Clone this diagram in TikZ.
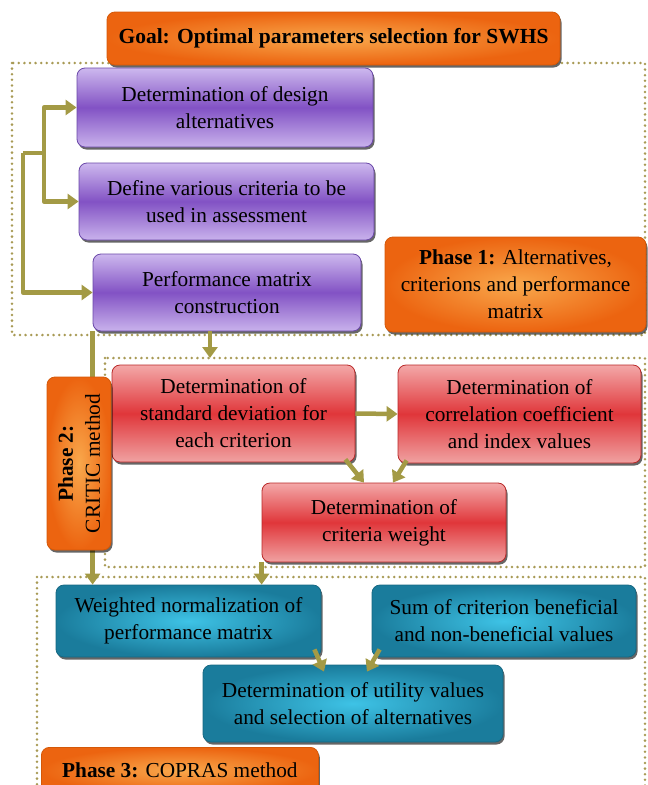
\documentclass[tikz,border=0pt]{standalone}
\usepackage{fontspec}
\setmainfont{Liberation Serif}
\usetikzlibrary{arrows.meta,shadows}

% Colours of the boxes
\definecolor{orangeout}{HTML}{EC6410}
\definecolor{orangein}{HTML}{F9A84C}
\definecolor{orangeedge}{HTML}{D45808}
\definecolor{purpletop}{HTML}{CDB8EE}
\definecolor{purplemid}{HTML}{8252C4}
\definecolor{purplebot}{HTML}{C9B2EC}
\definecolor{purpleedge}{HTML}{6A48A8}
\definecolor{redtop}{HTML}{F3A8A8}
\definecolor{redmid}{HTML}{E0363A}
\definecolor{redbot}{HTML}{F0A2A2}
\definecolor{rededge}{HTML}{B82828}
\definecolor{bluein}{HTML}{3EC3E6}
\definecolor{blueout}{HTML}{1A7C9C}
\definecolor{blueedge}{HTML}{176882}
\definecolor{arrowcol}{HTML}{A39A45}
\definecolor{dotcol}{HTML}{A89A55}

\tikzset{
	box/.style={rounded corners=8pt, align=center, inner sep=0pt, line width=.8pt,
		font=\fontsize{21.3}{27}\selectfont,
		drop shadow={shadow xshift=1.5pt, shadow yshift=-2.5pt, fill=black, opacity=.6}},
	purplebox/.style={box, draw=purpleedge, top color=purpletop, bottom color=purplebot, middle color=purplemid},
	redbox/.style={box, draw=rededge, top color=redtop, bottom color=redbot, middle color=redmid},
	bluebox/.style={box, draw=blueedge, inner color=bluein, outer color=blueout},
	phasebox/.style={box, draw=orangeedge, inner color=orangein, outer color=orangeout},
	flow/.style={draw=arrowcol, line width=4.5pt, -{Triangle[width=15pt,length=11pt]}},
	flowline/.style={draw=arrowcol, line width=4.5pt},
	phasearea/.style={draw=dotcol, line width=2.8pt, line cap=round, dash pattern=on 0pt off 5.6pt},
}

\begin{document}
\begin{tikzpicture}[x=1pt, y=-1pt, line join=round]
	% Window of the picture
	\useasboundingbox (0,0) rectangle (648,785);
	\clip (0,0) rectangle (648,785);
	
	% Dotted areas of the three phases
	\draw[phasearea] (12,63) rectangle (645,335);
	\draw[phasearea] (105,358) rectangle (645,567);
	\draw[phasearea] (37,577) rectangle (645,800);
	
	% Goal
	\node[phasebox, minimum width=453, minimum height=53, font=\fontsize{21.5}{27}\selectfont\bfseries]
		(goal) at (333.5,38.5) {Goal: Optimal parameters selection for SWHS};
	
	% Phase 1
	\node[purplebox, minimum width=296, minimum height=79] (design) at (225,107.5)
		{Determination of design\\alternatives};
	\node[purplebox, minimum width=295, minimum height=77] (criteria) at (226.5,201.5)
		{Define various criteria to be\\used in assessment};
	\node[purplebox, minimum width=268, minimum height=77] (matrix) at (227,292.5)
		{Performance matrix\\construction};
	\node[phasebox, minimum width=261, minimum height=95] (phaseone) at (515.5,284.5)
		{\textbf{Phase 1:} Alternatives,\\criterions and performance\\matrix};
	
	% Bracket on the left of phase 1
	\coordinate (fork) at (23,153);
	\coordinate (branch) at (44,153);
	\draw[flowline] (fork) -- (branch);
	\draw[flow] (branch) |- (design.west);
	\draw[flow] (branch) |- (criteria.west);
	\draw[flow] (fork) |- (matrix.west);
	
	% Phase 2
	\node[redbox, minimum width=243, minimum height=97] (stddev) at (233.5,413.5)
		{Determination of\\standard deviation for\\each criterion};
	\node[redbox, minimum width=243, minimum height=98] (correl) at (519.5,414)
		{Determination of\\correlation coefficient\\and index values};
	\node[redbox, minimum width=244, minimum height=79] (weight) at (384,522.5)
		{Determination of\\criteria weight};
	
	% Phase 3
	\node[bluebox, minimum width=265, minimum height=72] (weighted) at (188.5,621)
		{Weighted normalization of\\performance matrix};
	\node[bluebox, minimum width=264, minimum height=72] (sums) at (504,621)
		{Sum of criterion beneficial\\and non-beneficial values};
	\node[bluebox, minimum width=300, minimum height=77] (utility) at (353,703.5)
		{Determination of utility values\\and selection of alternatives};
	
	% Connectors between the phases
	\coordinate (phasetwotop) at (210,358);
	\draw[flow] (matrix.south -| phasetwotop) -- (phasetwotop);
	\draw[flow] (matrix.south west) -- (matrix.south west |- weighted.north);
	\draw[flow] (weight.south west) -- (weight.south west |- weighted.north);
	
	% Phase 2 label, on top of the long connector
	\node[phasebox, rotate=90, minimum width=173, minimum height=64] (phasetwo) at (79,463.5)
		{\textbf{Phase 2:}\\CRITIC method};
	\node[phasebox, minimum width=277, minimum height=46, anchor=north west] (phasethree) at (41,747)
		{\textbf{Phase 3:} COPRAS method};
	
	% Connectors inside phase 2
	\draw[flow] (stddev.east) -- (correl.west);
	\draw[flow] ([xshift=-10pt,yshift=3pt]stddev.south east) -- ([xshift=-20pt]weight.north);
	\draw[flow] ([xshift=9pt,yshift=3pt]correl.south west) -- ([xshift=9pt]weight.north);
	
	% Connectors inside phase 3
	\draw[flow] ([xshift=-7pt,yshift=8pt]weighted.south east) -- ([xshift=-29pt,yshift=-7pt]utility.north);
	\draw[flow] ([xshift=8pt,yshift=8pt]sums.south west) -- ([xshift=14pt,yshift=-7pt]utility.north);
\end{tikzpicture}
\end{document}
